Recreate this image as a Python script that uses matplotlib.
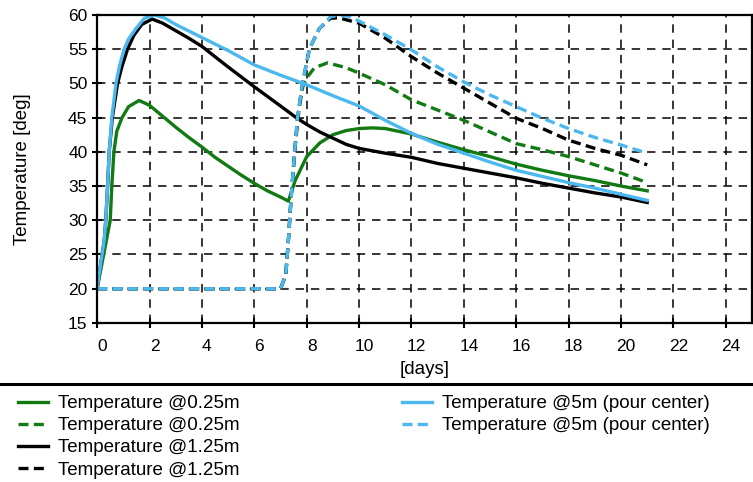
import matplotlib
matplotlib.use('Agg')
import matplotlib.pyplot as plt
import matplotlib.transforms as mtransforms
from matplotlib.lines import Line2D

plt.rcParams['font.family'] = ['Liberation Sans', 'DejaVu Sans']

# Colores de las series
verde = '#127a12'
azul = '#4cb8f0'
negro = 'black'

# Primer vaciado (lineas solidas)
t_verde = [0, 0.2, 0.35, 0.5, 0.56, 0.64, 0.75, 0.95, 1.2, 1.6, 2, 2.5, 3, 3.5, 4, 4.5, 5, 5.5, 6,
           6.5, 7, 7.3, 7.56, 8, 8.5, 9, 9.5, 10, 10.5, 11, 12, 13, 14, 15, 16, 17, 18, 19, 20, 21]
T_verde = [20, 24, 27, 30, 35, 40, 43, 45, 46.6, 47.5, 46.8, 45.2, 43.6, 42.1, 40.7, 39.2, 37.9,
           36.6, 35.4, 34.3, 33.4, 32.8, 35.8, 39.3, 41.3, 42.5, 43.1, 43.4, 43.5, 43.4, 42.6, 41.4,
           40.3, 39.3, 38.2, 37.3, 36.5, 35.8, 35.0, 34.3]

t_negro = [0, 0.15, 0.27, 0.33, 0.4, 0.46, 0.58, 0.68, 0.78, 0.95, 1.16, 1.4, 1.7, 2.1, 2.5, 3,
           3.5, 4, 5, 6, 7, 7.6, 8, 8.5, 9, 9.5, 10, 11, 12, 13, 14, 15, 16, 17, 18, 19, 20, 21]
T_negro = [20, 24, 27, 30, 35, 40, 45, 47.5, 50, 52.5, 55, 57, 58.6, 59.4, 58.8, 57.7, 56.6, 55.4,
           52.4, 49.5, 46.7, 45, 44.0, 42.9, 42.0, 41.1, 40.5, 39.8, 39.2, 38.3, 37.6, 36.9, 36.2,
           35.4, 34.7, 34.0, 33.4, 32.6]

t_azul = [0, 0.15, 0.27, 0.33, 0.4, 0.46, 0.56, 0.64, 0.72, 0.85, 1.03, 1.2, 1.48, 1.8, 2.2, 2.6,
          3, 4, 5, 6, 7, 8, 9, 10, 11, 12, 13, 14, 15, 16, 17, 18, 19, 20, 21]
T_azul = [20, 24, 27, 30, 35, 40, 45, 47.5, 50, 52.5, 55, 56.5, 58, 59.5, 60, 59.5, 58.6, 56.7,
          54.8, 52.7, 51.2, 49.8, 48.2, 46.7, 44.6, 42.7, 41.1, 39.8, 38.5, 37.3, 36.4, 35.5, 34.7,
          33.8, 32.9]

# Segundo vaciado (lineas discontinuas)
t_verde2 = [0, 7.0, 7.2, 7.3, 7.4, 7.54, 7.7, 7.85, 8.0, 8.3, 8.8, 9.5, 10, 11, 12, 13, 14, 15,
            16, 17, 18, 19, 20, 21]
T_verde2 = [20, 20, 22, 27, 33, 40, 46, 49.5, 50.8, 52.3, 53, 52.3, 51.5, 49.8, 47.6, 46.1, 44.6,
            42.9, 41.2, 40.3, 39.3, 38.1, 36.9, 35.5]

t_negro2 = [0, 7.0, 7.2, 7.3, 7.4, 7.54, 7.65, 7.84, 8.1, 8.48, 8.9, 9.2, 10, 11, 12, 13, 14, 15,
            16, 17, 18, 19, 20, 21]
T_negro2 = [20, 20, 22, 27, 33, 40, 45, 50, 55, 58, 59.5, 59.6, 58.8, 56.6, 53.9, 51.5, 49.3, 47.1,
            44.9, 43.4, 41.7, 40.5, 39.5, 38.1]

t_azul2 = [0, 7.0, 7.2, 7.3, 7.4, 7.54, 7.65, 7.84, 8.1, 8.48, 8.9, 9.2, 9.6, 10, 11, 12, 13, 14,
           15, 16, 17, 18, 19, 20, 21]
T_azul2 = [20, 20, 22, 27, 33, 40, 45, 50, 55, 58, 59.7, 60, 59.8, 59.1, 57.1, 54.9, 52.4, 50.2,
           48.3, 46.6, 44.9, 43.4, 42.1, 41.0, 39.8]

etiquetas = ['Temperature @0.25m', 'Temperature @0.25m', 'Temperature @1.25m',
             'Temperature @1.25m', 'Temperature @5m (pour center)', 'Temperature @5m (pour center)']

xticks = list(range(0, 25, 2))
yticks = list(range(15, 61, 5))

fig = plt.figure(figsize=(7.53, 4.82), dpi=100)
ax = fig.add_axes([0.129, 0.330, 0.8697, 0.639])

lw = 2.4
guiones = (0, (3, 1.6))
l1, = ax.plot(t_verde, T_verde, color=verde, lw=lw, label=etiquetas[0])
l2, = ax.plot(t_verde2, T_verde2, color=verde, lw=lw, linestyle=guiones, label=etiquetas[1])
l3, = ax.plot(t_negro, T_negro, color=negro, lw=lw, label=etiquetas[2])
l4, = ax.plot(t_negro2, T_negro2, color=negro, lw=lw, linestyle=guiones, label=etiquetas[3])
l5, = ax.plot(t_azul, T_azul, color=azul, lw=lw, label=etiquetas[4])
l6, = ax.plot(t_azul2, T_azul2, color=azul, lw=lw, linestyle=guiones, label=etiquetas[5])

ax.set_xlim(0, 25)
ax.set_ylim(15, 60)
ax.set_xticks(xticks)
ax.set_yticks(yticks)
ax.grid(True, color='black', linestyle=(0, (5.5, 4.5)), linewidth=1.1)
ax.set_axisbelow(True)
ax.tick_params(direction='inout', length=7, width=1.5, labelsize=12.5, colors='black')
ax.tick_params(axis='x', pad=8)
for s in ax.spines.values():
    s.set_linewidth(1.6)

# Las etiquetas del eje x estan un poco desplazadas a la derecha
desplaza = mtransforms.ScaledTranslation(5 / 100, 0, fig.dpi_scale_trans)
for lab in ax.get_xticklabels():
    lab.set_transform(lab.get_transform() + desplaza)

ax.set_xlabel('[days]', fontsize=13.5, labelpad=5)
ax.set_ylabel('Temperature [deg]', fontsize=13.5)
ax.yaxis.set_label_coords(-0.101, 0.5)

# Linea separadora sobre la leyenda
fig.add_artist(Line2D([0, 1], [1 - 384 / 482, 1 - 384 / 482], transform=fig.transFigure,
                      color='black', lw=2.2))

opts = dict(frameon=False, fontsize=13.5, handlelength=1.6, handletextpad=0.53,
            labelspacing=0.27, borderpad=0, borderaxespad=0)
fig.legend(handles=[l1, l2, l3, l4], loc='upper left',
           bbox_to_anchor=(18 / 753, 1 - 395 / 482), **opts)
fig.legend(handles=[l5, l6], loc='upper left',
           bbox_to_anchor=(402 / 753, 1 - 395 / 482), **opts)

fig.savefig('out.png', dpi=100)
